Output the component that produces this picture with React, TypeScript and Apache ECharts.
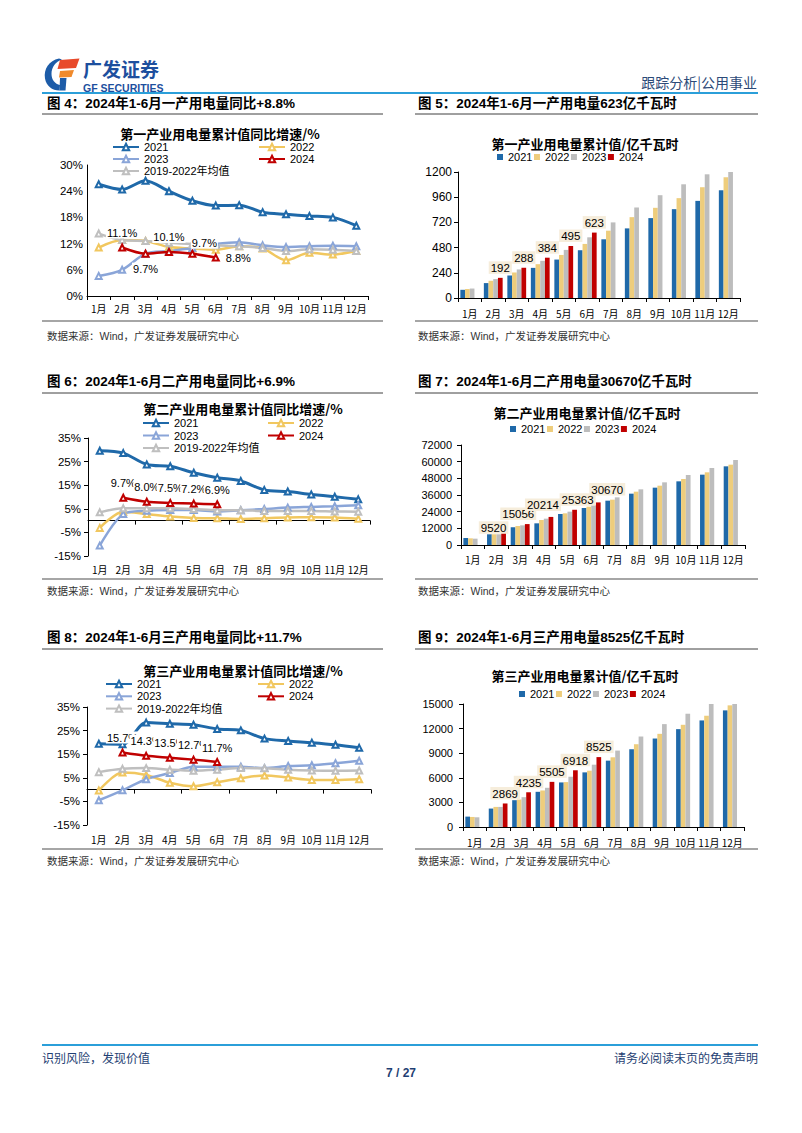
import React, { useEffect, useRef } from "react";
import * as echarts from "echarts";

// ---------- categories & tick labels ----------
const months = ["1月", "2月", "3月", "4月", "5月", "6月", "7月", "8月", "9月", "10月", "11月", "12月"];
const signedPctTicks = ["-15%", "-5%", "5%", "15%", "25%", "35%"];
const yearNames = ["2021", "2022", "2023", "2024"];
const avgName = "2019-2022年均值";

// ---------- 图4 一产用电量累计同比 (%) ----------
const f4Yoy2021 = [25.6, 24.4, 26.4, 24.0, 21.8, 20.7, 20.8, 19.2, 18.7, 18.3, 18.0, 16.1];
const f4Yoy2022 = [11.1, 12.8, 12.6, 11.2, 10.9, 10.6, 11.4, 10.9, 8.2, 9.9, 9.5, 10.3];
const f4Yoy2023 = [4.6, 6.0, 9.7, 10.3, 11.0, 11.9, 12.3, 11.6, 11.2, 11.4, 11.5, 11.4];
const f4Yoy2024 = [null, 11.1, 9.7, 10.1, 9.7, 8.8, null, null, null, null, null, null];
const f4YoyAvg = [14.3, 12.8, 12.6, 12.2, 11.9, 11.6, 11.4, 11.0, 10.3, 10.7, 10.6, 10.3];

// ---------- 图5 一产用电量累计值 (亿千瓦时) ----------
const f5Val2021 = [78, 142, 215, 287, 366, 455, 559, 663, 761, 846, 925, 1026];
const f5Val2022 = [86, 164, 243, 322, 410, 515, 641, 770, 859, 951, 1055, 1150];
const f5Val2023 = [90, 180, 272, 354, 458, 578, 720, 862, 979, 1083, 1178, 1200];
const f5Val2024 = [null, 192, 288, 384, 495, 623, null, null, null, null, null, null];

// ---------- 图6 二产用电量累计同比 (%) ----------
const f6Yoy2021 = [29.6, 28.6, 23.8, 23.0, 20.3, 18.2, 16.8, 13.0, 12.3, 11.1, 10.1, 9.0];
const f6Yoy2022 = [-3.1, 3.8, 2.8, 1.7, 1.1, 1.0, 0.7, 1.0, 1.3, 1.4, 1.3, 0.8];
const f6Yoy2023 = [-10.6, 2.8, 4.2, 4.5, 4.5, 3.9, 4.4, 4.9, 5.5, 5.8, 6.1, 6.5];
const f6Yoy2024 = [null, 9.7, 8.0, 7.5, 7.2, 6.9, null, null, null, null, null, null];
const f6YoyAvg = [3.5, 5.2, 5.2, 5.2, 4.9, 4.4, 4.4, 4.1, 4.1, 4.1, 3.9, 3.8];

// ---------- 图7 二产用电量累计值 (亿千瓦时) ----------
const f7Val2021 = [5040, 7700, 12720, 15600, 22320, 26640, 31920, 36960, 41280, 45840, 50640, 56640];
const f7Val2022 = [4800, 7700, 13680, 18000, 22800, 27600, 32640, 38400, 42720, 47520, 52320, 57840];
const f7Val2023 = [4560, 7700, 14160, 18960, 24000, 28800, 34320, 40080, 45120, 50400, 55440, 61200];
const f7Val2024 = [null, 9520, 15056, 20214, 25363, 30670, null, null, null, null, null, null];

// ---------- 图8 三产用电量累计同比 (%) ----------
const f8Yoy2021 = [19.4, 19.2, 28.4, 27.9, 27.5, 25.7, 25.1, 21.6, 20.6, 19.9, 19.0, 17.7];
const f8Yoy2022 = [-0.4, 7.2, 6.2, 2.9, 1.4, 3.1, 4.8, 6.0, 5.1, 4.1, 4.1, 4.4];
const f8Yoy2023 = [-4.5, -0.3, 4.4, 7.0, 9.7, 9.7, 9.7, 9.1, 10.0, 10.3, 11.2, 12.2];
const f8Yoy2024 = [null, 15.7, 14.3, 13.5, 12.7, 11.7, null, null, null, null, null, null];
const f8YoyAvg = [7.4, 8.8, 9.1, 8.4, 8.0, 8.4, 9.1, 9.0, 8.4, 8.1, 8.0, 8.1];

// ---------- 图9 三产用电量累计值 (亿千瓦时) ----------
const f9Val2021 = [1267, 2248, 3270, 4291, 5436, 6662, 8092, 9482, 10790, 11934, 12997, 14223];
const f9Val2022 = [1226, 2452, 3351, 4455, 5476, 6866, 8500, 10095, 11362, 12465, 13569, 14836];
const f9Val2023 = [1185, 2452, 3637, 4782, 6131, 7600, 9318, 11035, 12547, 13814, 15000, 15000];
const f9Val2024 = [null, 2869, 4235, 5505, 6918, 8525, null, null, null, null, null, null];

// ---------- texts ----------
const figHeaders = [
  "图 4：2024年1-6月一产用电量同比+8.8%",
  "图 5：2024年1-6月一产用电量623亿千瓦时",
  "图 6：2024年1-6月二产用电量同比+6.9%",
  "图 7：2024年1-6月二产用电量30670亿千瓦时",
  "图 8：2024年1-6月三产用电量同比+11.7%",
  "图 9：2024年1-6月三产用电量8525亿千瓦时",
];
const chartTitles = [
  "第一产业用电量累计值同比增速/%",
  "第一产业用电量累计值/亿千瓦时",
  "第二产业用电量累计值同比增速/%",
  "第二产业用电量累计值/亿千瓦时",
  "第三产业用电量累计值同比增速/%",
  "第三产业用电量累计值/亿千瓦时",
];
const sourceText = "数据来源：Wind，广发证券发展研究中心";

// ---------- styles ----------
const FONT = "'Liberation Sans', Arial, 'Noto Sans CJK SC', sans-serif";
const CJK = "'Noto Sans CJK SC', 'Liberation Sans', sans-serif";
const L21 = "#1f69a9";
const L22 = "#f1c75f";
const L23 = "#8aa5d8";
const L24 = "#c00000";
const LAVG = "#bfbfbf";
const B21 = "#1f69a9";
const B22 = "#eecd7c";
const B23 = "#bdbdbd";
const B24 = "#c00000";
const AX = { color: "#000", width: 1 };

let logoRegistered = false;
function registerLogo() {
  if (logoRegistered) return;
  echarts.graphic.registerShape(
    "gfArc",
    echarts.graphic.extendPath(
      "M59 58.5 C49 60.5 43.5 69 45 78.5 C46.3 86 52 90.5 59.5 90.5 L60 85 C55 84 51.5 79.5 51.5 74 C51.5 67 55.5 62 62 59.5 Z",
      {}
    )
  );
  logoRegistered = true;
}

const nm = (p: string, n: string) => p + "|" + n;
const legendFmt = (n: string) => n.split("|")[1];
const plainNum = (v: number) => String(v);
const pctNum = (v: number) => v + "%";

function catX(gridIndex: number, margin: number) {
  return {
    type: "category", gridIndex, data: months, position: "bottom",
    axisLine: { show: true, onZero: false, lineStyle: AX },
    axisTick: { show: true, length: 4, lineStyle: AX },
    axisLabel: { show: true, interval: 0, fontSize: 10, color: "#000", margin, fontFamily: CJK },
    splitLine: { show: false },
  };
}
function catXLabelsOnly(gridIndex: number, margin: number) {
  return {
    type: "category", gridIndex, data: months, position: "bottom",
    axisLine: { show: false, onZero: false },
    axisTick: { show: false },
    axisLabel: { show: true, interval: 0, fontSize: 10, color: "#000", margin, fontFamily: CJK },
    splitLine: { show: false },
  };
}
function catXZeroLine(gridIndex: number) {
  return {
    type: "category", gridIndex, data: months, position: "bottom",
    axisLine: { show: true, onZero: true, lineStyle: AX },
    axisTick: { show: true, length: 4, lineStyle: AX },
    axisLabel: { show: false },
    splitLine: { show: false },
  };
}
function valY(gridIndex: number, min: number, max: number, interval: number, fmt: any, fontSize: number, margin: number, tick: boolean) {
  return {
    type: "value", gridIndex, min, max, interval, position: "left",
    axisLine: { show: true, lineStyle: AX },
    axisTick: { show: tick, length: 4, lineStyle: AX },
    axisLabel: { formatter: fmt, fontSize, color: "#000", margin, fontFamily: FONT },
    splitLine: { show: false },
  };
}
function hiddenY(gridIndex: number) {
  return { type: "value", gridIndex, min: -15, max: 35, show: false, position: "left", splitLine: { show: false } };
}
function catY(gridIndex: number) {
  return {
    type: "category", gridIndex, data: signedPctTicks, boundaryGap: false, position: "left",
    axisLine: { show: true, onZero: false, lineStyle: AX },
    axisTick: { show: true, length: 4, lineStyle: AX },
    axisLabel: { interval: 0, fontSize: 11.5, color: "#000", margin: 7, fontFamily: FONT },
    splitLine: { show: false },
  };
}

const lineLabel = {
  show: true, position: "top",
  formatter: (p: any) => Number(p.value).toFixed(1) + "%",
  backgroundColor: "#fff", padding: [1, 1, 0, 1], fontSize: 11, color: "#000", fontFamily: FONT,
};
const barLabel = {
  show: true, position: "top", distance: 4,
  backgroundColor: "#f6eddb", padding: [1, 2, 0, 2], fontSize: 11.5, color: "#000", fontFamily: FONT,
};

function line(name: string, data: any[], color: string, xi: number, yi: number, width: number, z = 2, label?: any) {
  const s: any = {
    type: "line", name, data, xAxisIndex: xi, yAxisIndex: yi, z,
    smooth: 0.3, symbol: "emptyTriangle", symbolSize: 6, showAllSymbol: true,
    lineStyle: { color, width }, itemStyle: { color, borderColor: color, borderWidth: 1.2 },
    emphasis: { disabled: true },
  };
  if (label) s.label = label;
  return s;
}
function bar(name: string, data: any[], color: string, xi: number, yi: number, label?: any) {
  const s: any = {
    type: "bar", name, data, xAxisIndex: xi, yAxisIndex: yi,
    barGap: "0%", barCategoryGap: "20%", itemStyle: { color },
    emphasis: { disabled: true },
  };
  if (label) s.label = label;
  return s;
}

function withItemLabels(values: (number | null)[], layouts: any[]) {
  return values.map((v, i) => (v == null ? null : layouts[i] ? { value: v, label: layouts[i] } : v));
}

// label layout (style, not data)
const f4LabelLayout = [null, { position: "top" }, { position: "bottom" }, { position: "top" }, { position: "top", offset: [12, 4] }, { position: "right" }];
const f7LabelLayout = [null, { offset: [-10, 6] }, { offset: [-9, 0] }, { offset: [-8, -2] }, { offset: [3, 0] }, { offset: [9, -3] }];

function lineLegends(prefix: string, lx: number, rx: number, top: number, gap: number) {
  const base = {
    orient: "vertical", itemWidth: 26, itemHeight: 8, itemGap: gap, padding: 0,
    selectedMode: false, formatter: legendFmt,
    textStyle: { fontSize: 11, color: "#000", lineHeight: 12, fontFamily: FONT },
  };
  return [
    { ...base, left: lx, top, data: [nm(prefix, "2021"), nm(prefix, "2023"), nm(prefix, avgName)] },
    { ...base, left: rx, top, data: [nm(prefix, "2022"), nm(prefix, "2024")] },
  ];
}
function barLegend(prefix: string, left: number, top: number) {
  return {
    orient: "horizontal", left, top, itemWidth: 6, itemHeight: 6, itemGap: 1.5, padding: 0, icon: "rect",
    selectedMode: false, formatter: legendFmt,
    textStyle: { fontSize: 11, color: "#000", lineHeight: 12, fontFamily: FONT },
    data: yearNames.map((y) => nm(prefix, y)),
  };
}

function text(x: number, y: number, t: string, o: any = {}) {
  return {
    type: "text", x, y, silent: true,
    style: {
      text: t, fill: o.fill || "#000", fontSize: o.fontSize || 12, fontWeight: o.fontWeight || "normal",
      fontFamily: o.fontFamily || CJK, align: o.align || "left", verticalAlign: "middle",
    },
  };
}
function hline(x1: number, x2: number, y: number, stroke: string, lw: number) {
  return { type: "line", silent: true, shape: { x1, y1: y, x2, y2: y }, style: { stroke, lineWidth: lw } };
}

function buildOption() {
  const rows = [
    { head: 103, headLine: 114, bottomLine: 321, src: 336 },
    { head: 381, headLine: 393, bottomLine: 579, src: 591 },
    { head: 637, headLine: 649, bottomLine: 849, src: 861 },
  ];
  const graphics: any[] = [
    // logo
    { type: "gfArc", x: 0, y: 0, silent: true, style: { fill: "#1d5ca8" } },
    { type: "polygon", silent: true, shape: { points: [[60, 78], [66.5, 78], [65.5, 90.5], [59.5, 90.5]] }, style: { fill: "#1d5ca8" } },
    { type: "polygon", silent: true, shape: { points: [[60, 60], [79.5, 58.5], [76, 68], [57.5, 69]] }, style: { fill: "#e84a2b" } },
    { type: "polygon", silent: true, shape: { points: [[60, 71], [74, 70], [71.5, 77], [59, 77.5]] }, style: { fill: "#f08a2c" } },
    text(83, 68, "广发证券", { fontSize: 19, fontWeight: "bold", fill: "#1d4f9e" }),
    text(83, 87.5, "GF SECURITIES", { fontSize: 10.5, fontWeight: "bold", fill: "#1d4f9e", fontFamily: FONT }),
    text(757, 82, "跟踪分析|公用事业", { fontSize: 14, fill: "#2c4a78", align: "right" }),
    hline(42, 758, 93, "#2b9fd9", 2),
    // footer
    hline(42, 758, 1045, "#2b9fd9", 2),
    text(42, 1057, "识别风险，发现价值", { fontSize: 12, fill: "#1f3f73" }),
    text(758, 1057, "请务必阅读末页的免责声明", { fontSize: 12, fill: "#1f3f73", align: "right" }),
    text(401, 1073, "7 / 27", { fontSize: 12, fontWeight: "bold", fill: "#1f3f73", align: "center", fontFamily: FONT }),
  ];
  rows.forEach((r, i) => {
    graphics.push(text(47, r.head, figHeaders[i * 2], { fontSize: 13.5, fontWeight: "bold", fontFamily: FONT }));
    graphics.push(text(418, r.head, figHeaders[i * 2 + 1], { fontSize: 13.5, fontWeight: "bold", fontFamily: FONT }));
    graphics.push(hline(42, 383, r.headLine, "#404040", 1));
    graphics.push(hline(415, 758, r.headLine, "#404040", 1));
    graphics.push(hline(42, 383, r.bottomLine, "#a6a6a6", 2));
    graphics.push(hline(415, 758, r.bottomLine, "#a6a6a6", 2));
    graphics.push(text(47, r.src, sourceText, { fontSize: 10.5, fill: "#333", fontFamily: FONT }));
    graphics.push(text(418, r.src, sourceText, { fontSize: 10.5, fill: "#333", fontFamily: FONT }));
  });
  const titlePos = [[220, 133], [585, 143], [243, 408], [587, 412], [243, 670], [585, 675]];
  titlePos.forEach((p, i) => {
    graphics.push(text(p[0], p[1], chartTitles[i], { fontSize: 13, fontWeight: "bold", align: "center" }));
  });

  const gridBase = { containLabel: false, outerBoundsMode: "none" };
  const grid = [
    { ...gridBase, left: 87, top: 165, width: 281, height: 131 },
    { ...gridBase, left: 458, top: 172, width: 282, height: 126 },
    { ...gridBase, left: 88, top: 438, width: 282, height: 118 },
    { ...gridBase, left: 461, top: 445, width: 284, height: 100 },
    { ...gridBase, left: 87, top: 707, width: 284, height: 118 },
    { ...gridBase, left: 463, top: 704, width: 281, height: 123 },
  ];
  const xAxis = [
    catX(0, 7),
    catX(1, 10),
    catXLabelsOnly(2, 8),
    catXZeroLine(2),
    catX(3, 9),
    catXLabelsOnly(4, 9),
    catXZeroLine(4),
    catX(5, 10),
  ];
  const yAxis = [
    valY(0, 0, 30, 6, pctNum, 11.5, 4, false),
    valY(1, 0, 1200, 240, plainNum, 12, 6, true),
    hiddenY(2),
    catY(2),
    valY(3, 0, 72000, 12000, plainNum, 11, 9, true),
    hiddenY(4),
    catY(4),
    valY(5, 0, 15000, 3000, plainNum, 11, 10, true),
  ];

  const series: any[] = [
    // 图4
    line(nm("f4", "2021"), f4Yoy2021, L21, 0, 0, 3),
    line(nm("f4", "2022"), f4Yoy2022, L22, 0, 0, 2.5),
    line(nm("f4", "2023"), f4Yoy2023, L23, 0, 0, 2.5),
    line(nm("f4", avgName), f4YoyAvg, LAVG, 0, 0, 2.5),
    line(nm("f4", "2024"), withItemLabels(f4Yoy2024, f4LabelLayout), L24, 0, 0, 2.5, 3, lineLabel),
    // 图5
    bar(nm("f5", "2021"), f5Val2021, B21, 1, 1),
    bar(nm("f5", "2022"), f5Val2022, B22, 1, 1),
    bar(nm("f5", "2023"), f5Val2023, B23, 1, 1),
    bar(nm("f5", "2024"), f5Val2024, B24, 1, 1, barLabel),
    // 图6
    line(nm("f6", "2021"), f6Yoy2021, L21, 2, 2, 3),
    line(nm("f6", "2022"), f6Yoy2022, L22, 2, 2, 2.5),
    line(nm("f6", "2023"), f6Yoy2023, L23, 2, 2, 2.5),
    line(nm("f6", avgName), f6YoyAvg, LAVG, 2, 2, 2.5),
    line(nm("f6", "2024"), f6Yoy2024, L24, 2, 2, 2.5, 3, lineLabel),
    // 图7
    bar(nm("f7", "2021"), f7Val2021, B21, 4, 4),
    bar(nm("f7", "2022"), f7Val2022, B22, 4, 4),
    bar(nm("f7", "2023"), f7Val2023, B23, 4, 4),
    bar(nm("f7", "2024"), withItemLabels(f7Val2024, f7LabelLayout), B24, 4, 4, barLabel),
    // 图8
    line(nm("f8", "2021"), f8Yoy2021, L21, 5, 5, 3),
    line(nm("f8", "2022"), f8Yoy2022, L22, 5, 5, 2.5),
    line(nm("f8", "2023"), f8Yoy2023, L23, 5, 5, 2.5),
    line(nm("f8", avgName), f8YoyAvg, LAVG, 5, 5, 2.5),
    line(nm("f8", "2024"), f8Yoy2024, L24, 5, 5, 2.5, 3, lineLabel),
    // 图9
    bar(nm("f9", "2021"), f9Val2021, B21, 7, 7),
    bar(nm("f9", "2022"), f9Val2022, B22, 7, 7),
    bar(nm("f9", "2023"), f9Val2023, B23, 7, 7),
    bar(nm("f9", "2024"), f9Val2024, B24, 7, 7, barLabel),
  ];

  const legend = [
    ...lineLegends("f4", 112, 258, 141, 0),
    barLegend("f5", 497, 151),
    ...lineLegends("f6", 142, 267, 417, 0.5),
    barLegend("f7", 510, 423),
    ...lineLegends("f8", 105, 257, 678, 0.3),
    barLegend("f9", 519, 688),
  ];

  return {
    animation: false,
    backgroundColor: "#fff",
    textStyle: { fontFamily: FONT },
    grid,
    xAxis,
    yAxis,
    legend,
    series,
    graphic: { elements: graphics },
  };
}

export default function App() {
  const ref = useRef<HTMLDivElement>(null);
  useEffect(() => {
    registerLogo();
    const chart = echarts.init(ref.current!, null, { renderer: "svg", width: 802, height: 1133 });
    chart.setOption(buildOption() as any);
    return () => chart.dispose();
  }, []);
  return (
    <div
      ref={ref}
      style={{ position: "absolute", left: 0, top: 0, width: 802, height: 1133, background: "#fff" }}
    />
  );
}
